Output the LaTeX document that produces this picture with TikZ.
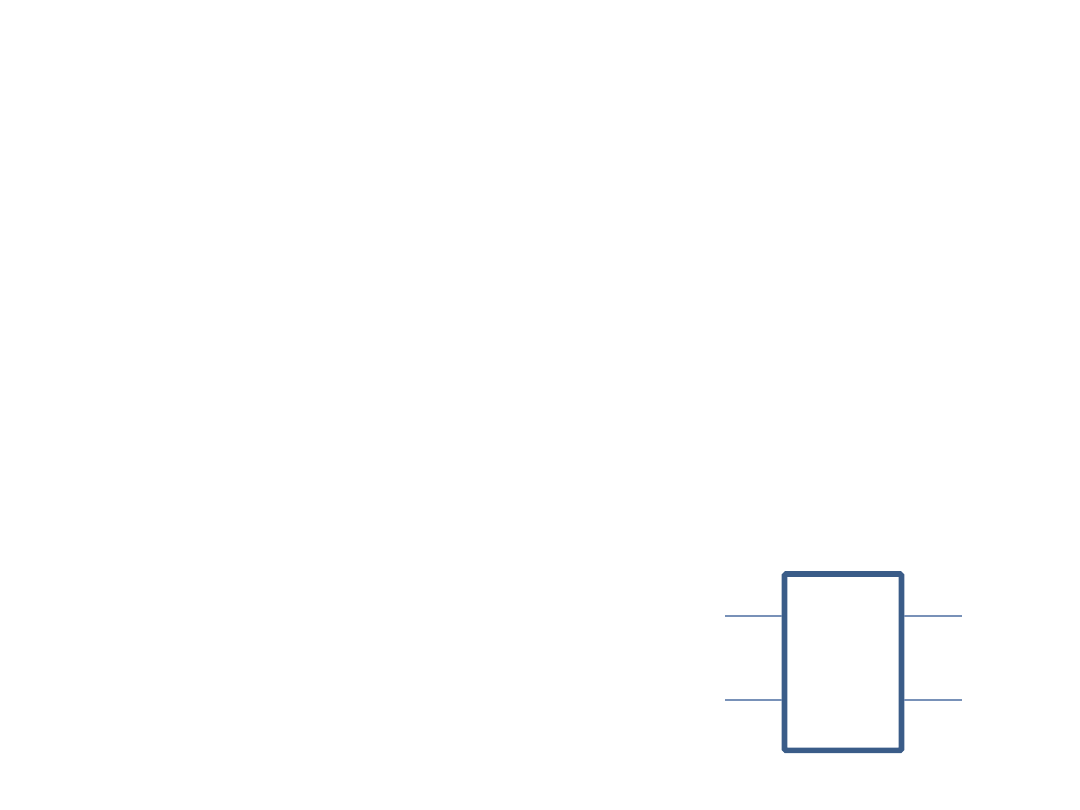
\documentclass[tikz,border=0pt]{standalone}
\usetikzlibrary{positioning}

\definecolor{boxblue}{HTML}{3A5C88}
\definecolor{wireblue}{HTML}{7891B8}

\tikzset{
    blockbox/.style={draw=boxblue, line width=2.1pt, rounded corners=0.6pt, minimum width=1.56cm, minimum height=2.353cm, inner sep=0pt},
    wire/.style={draw=wireblue, line width=0.8pt}
}

\begin{document}
\begin{tikzpicture}

            % the frame
            \useasboundingbox (0, 0) rectangle (14.4, 10.8);

            % the body
            \node[blockbox] (gate) at (11.24, 1.97) {};

            % wires
            \foreach \i/\y in {1/2.587, 2/1.467} {
                \coordinate (in\i) at (9.667, \y);
                \coordinate (out\i) at (12.827, \y);
                \path[wire] (in\i) -- (in\i -| gate.west);
                \path[wire] (out\i -| gate.east) -- (out\i);
            };
        \end{tikzpicture}
\end{document}
